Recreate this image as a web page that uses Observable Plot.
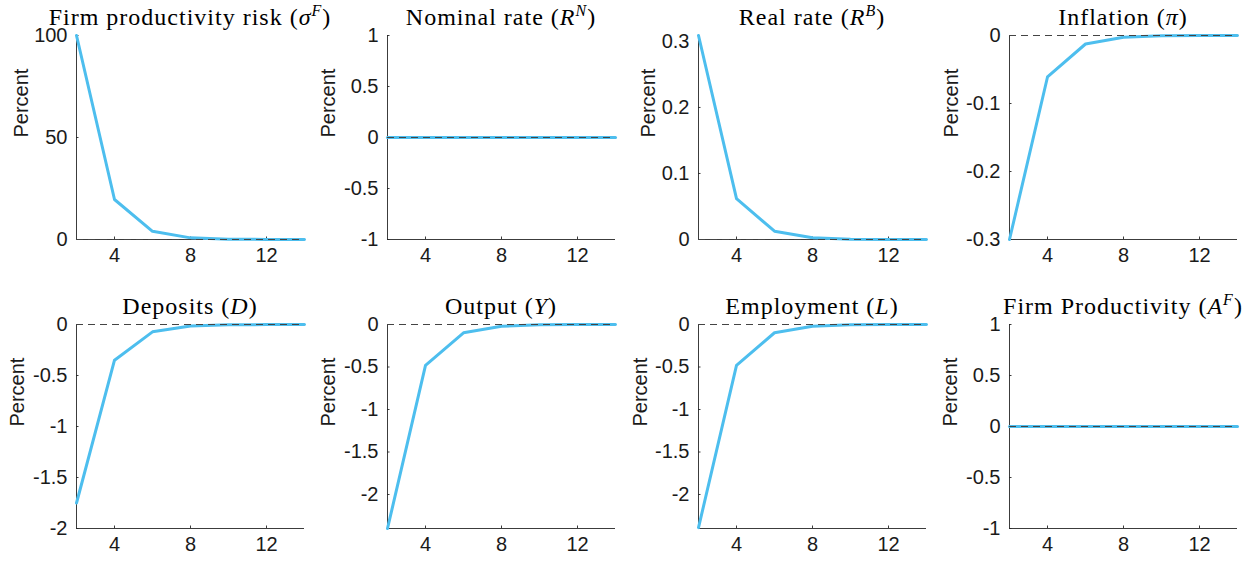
<!DOCTYPE html>
<html><head><meta charset="utf-8">
<script src="https://cdn.jsdelivr.net/npm/d3@7"></script>
<script src="https://cdn.jsdelivr.net/npm/@observablehq/plot@0.6"></script>
<style>
body{margin:0;background:#fff;}
#fig{position:relative;width:1250px;height:561px;background:#fff;overflow:hidden;}
</style></head><body><div id="fig"></div>
<script>
// ---- data ----
const periods = [2, 4, 6, 8, 10, 12, 14];
const sigmaF     = [100, 19.6, 4.0, 0.8, 0.16, 0.03, 0.006];
const nominal    = [0, 0, 0, 0, 0, 0, 0];
const realRate   = [0.309, 0.062, 0.0126, 0.0025, 0.0005, 0.0001, 0.00002];
const inflation  = [-0.30, -0.061, -0.0125, -0.0025, -0.0005, -0.0001, -0.00002];
const deposits   = [-1.75, -0.35, -0.072, -0.0145, -0.003, -0.0006, -0.0001];
const output     = [-2.40, -0.48, -0.098, -0.02, -0.004, -0.0008, -0.00016];
const employment = [-2.39, -0.48, -0.097, -0.02, -0.004, -0.0008, -0.00016];
const firmProd   = [0, 0, 0, 0, 0, 0, 0];

const titleText = ["Firm productivity risk", "Nominal rate", "Real rate", "Inflation",
                   "Deposits", "Output", "Employment", "Firm Productivity"];
const titleSym  = ["σ", "R", "R", "π", "D", "Y", "L", "A"];
const titleSup  = ["F", "N", "B", "", "", "", "", "F"];
const yLabel = "Percent";

const yMin = [0, -1, 0, -0.3, -2, -2.4, -2.4, -1];
const yMax = [100, 1, 0.309, 0, 0, 0, 0, 1];
const yTicks = [
  [0, 50, 100],
  [-1, -0.5, 0, 0.5, 1],
  [0, 0.1, 0.2, 0.3],
  [-0.3, -0.2, -0.1, 0],
  [-2, -1.5, -1, -0.5, 0],
  [-2, -1.5, -1, -0.5, 0],
  [-2, -1.5, -1, -0.5, 0],
  [-1, -0.5, 0, 0.5, 1]
];
const xTicks = [4, 8, 12];
const series = [sigmaF, nominal, realRate, inflation, deposits, output, employment, firmProd];

// ---- layout ----
const colLeft = [0, 311, 622, 933];
const rowTop = [0, 289];
const labelOff = [55, 59, 50, 58, 59, 59, 58, 59];
const ML = 76, MR = 13, MT = 35, MB = 32, FW = 228, FH = 204;
const axisColor = "#262626";
const lineColor = "#4DBEEE";

const fig = document.getElementById("fig");

series.forEach((vals, i) => {
  const data = periods.map((p, j) => ({x: p, y: vals[j]}));
  const lo = yMin[i], hi = yMax[i];
  const svg = Plot.plot({
    width: ML + FW + MR, height: MT + FH + MB,
    marginLeft: ML, marginRight: MR, marginTop: MT, marginBottom: MB,
    style: {background: "transparent", overflow: "visible", fontFamily: "'Liberation Sans', Arial, sans-serif", color: axisColor},
    x: {domain: [2, 14]},
    y: {domain: [lo, hi]},
    marks: [
      Plot.ruleX([2], {stroke: axisColor, strokeWidth: 0.9}),
      Plot.ruleY([lo], {stroke: axisColor, strokeWidth: 0.9}),
      Plot.ruleX(xTicks, {x: d => d, y1: lo, y2: lo, insetTop: -2.5, stroke: axisColor, strokeWidth: 0.9}),
      Plot.ruleY(yTicks[i], {y: d => d, x1: 2, x2: 2, insetRight: -2.5, stroke: axisColor, strokeWidth: 0.9}),
      Plot.axisX({ticks: xTicks, tickSize: 0, tickPadding: 8, fontSize: 20, label: null, tickFormat: d => String(d), fill: "#1a1a1a"}),
      Plot.axisY({ticks: yTicks[i], tickSize: 0, tickPadding: 9, fontSize: 20, label: null, tickFormat: d => String(d), fill: "#1a1a1a"}),
      Plot.line(data, {x: "x", y: "y", stroke: lineColor, strokeWidth: 3}),
      Plot.ruleY([0], {stroke: "#444", strokeWidth: 1, strokeDasharray: "7,5"}),
      Plot.text([yLabel], {frameAnchor: "left", dx: -labelOff[i], rotate: -90, fontSize: 20, fill: "#1a1a1a"})
    ]
  });
  svg.style.position = "absolute";
  svg.style.left = colLeft[i % 4] + "px";
  svg.style.top = rowTop[Math.floor(i / 4)] + "px";
  // title with math parts
  const t = d3.select(svg).append("text")
    .attr("x", ML + FW / 2).attr("y", MT - 10)
    .attr("text-anchor", "middle")
    .attr("font-family", "'Liberation Serif', 'Times New Roman', serif")
    .attr("font-size", 24)
    .attr("letter-spacing", "1px")
    .attr("fill", "#000");
  t.append("tspan").text(titleText[i] + " (");
  t.append("tspan").attr("font-style", "italic").text(titleSym[i]);
  if (titleSup[i]) {
    t.append("tspan").attr("font-style", "italic").attr("font-size", 16).attr("dy", -9).text(titleSup[i]);
    t.append("tspan").attr("dy", 9).text(")");
  } else {
    t.append("tspan").text(")");
  }
  fig.appendChild(svg);
});
</script></body></html>
